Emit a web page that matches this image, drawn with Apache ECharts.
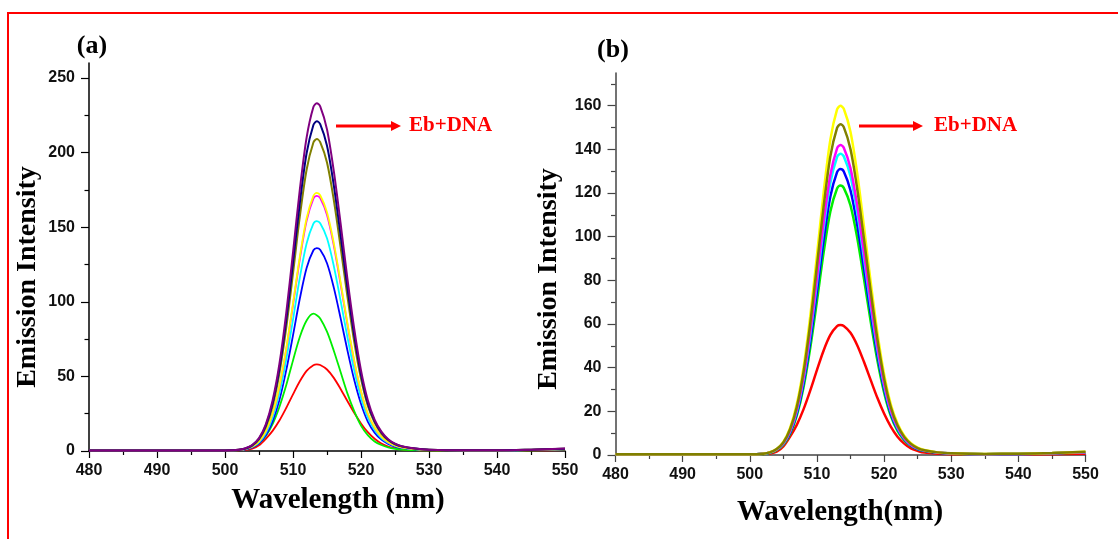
<!DOCTYPE html>
<html style="height: 100%">
<head>
<meta charset="utf-8">
<script src="https://cdn.jsdelivr.net/npm/echarts@6/dist/echarts.min.js"></script>
</head>
<body style="height: 100%; margin: 0; background: #fff">
<div id="main" style="width: 1118px; height: 539px;"></div>
<script type="text/javascript">
// wavelength samples (nm), shared by every curve
var wavelength = [480, 485, 490, 495, 500, 502, 503, 504, 505, 506, 507, 508, 509, 510, 511, 512, 513, 513.5,
    514, 515, 516, 517, 518, 519, 520, 521, 522, 523, 524, 525, 526, 528, 530, 535, 540, 545, 550];

// panel (a) emission intensity curves
var aRed     = [0.3,0.3,0.3,0.3,0.3,0.5,0.7,1.5,3.8,8.2,13.5,20.4,28.8,37.9,46.7,53.7,57.5,58,57.6,54.6,49,41.6,33.5,25.6,18.5,12.6,8.2,5,3,1.9,1.1,0.6,0.4,0.3,0.3,0.4,0.6];
var aGreen   = [0.3,0.3,0.3,0.3,0.3,0.6,1.2,2.5,5.1,10,18,29.5,44,60.7,76.4,87.4,92,91,88.8,80,67.2,52.9,38.6,26.7,17,10.6,6.4,4,2.4,1.5,1,0.6,0.4,0.3,0.3,0.5,0.9];
var aBlue    = [0.3,0.3,0.3,0.3,0.3,0.6,1.1,2.4,5.2,10.6,19.9,34.1,54,77.5,102,122.7,134.5,136,134.8,125.8,109.5,89,67.5,47.7,31.6,19.7,12.3,7.6,4.8,3,2.1,1.1,0.7,0.4,0.4,0.7,1.1];
var aCyan    = [0.3,0.3,0.3,0.3,0.3,0.6,1.3,2.7,5.8,11.9,22.4,38.6,61.1,88,116,139,152.3,154,152.6,142.5,124,100.7,76.4,54,35.7,22.3,14,8.6,5.3,3.4,2.3,1.2,0.7,0.4,0.4,0.7,1.2];
var aMagenta = [0.3,0.3,0.3,0.3,0.3,0.7,1.4,3,6.4,13.2,24.9,42.9,67.8,97.8,128.5,154.3,169.1,171,169.5,158.2,137.7,111.8,84.8,60,39.7,24.8,15.6,9.6,5.9,3.7,2.5,1.3,0.8,0.5,0.5,0.8,1.3];
var aYellow  = [0.3,0.3,0.3,0.3,0.3,0.7,1.4,3,6.5,13.4,25.2,43.4,68.6,98.9,130,156,171,173,171.4,160,139.3,113.1,85.8,60.7,40.1,25.1,15.8,9.7,6,3.8,2.5,1.3,0.8,0.5,0.5,0.8,1.3];
var aOlive   = [0.3,0.3,0.3,0.3,0.4,0.8,1.6,3.6,7.8,16,30,52,82.5,119,157,188.5,206.7,209,207,193.3,168.2,136.7,103.7,73.4,48.5,30.3,19,11.7,7.2,4.5,3,1.5,0.9,0.5,0.5,0.9,1.5];
var aNavy    = [0.3,0.3,0.3,0.3,0.4,0.8,1.7,3.8,8.2,17,32,55.3,87.6,126,166,199.5,218.5,221,219,204.5,178,144.5,109.5,77.6,51.3,32,20,12.4,7.5,4.7,3.1,1.6,0.9,0.5,0.5,0.9,1.5];
var aPurple  = [0.3,0.3,0.3,0.3,0.4,0.8,1.8,4,8.6,17.9,33.8,58.3,92.3,133,175,210,230.5,233,231,215.5,187.5,152.5,115.5,82,54,34,21,13,7.9,4.9,3.2,1.6,0.9,0.5,0.5,0.9,1.6];

// panel (b) emission intensity curves
var bRed     = [0.3,0.3,0.3,0.3,0.3,0.5,0.7,1.5,3.9,8.4,13.8,20.9,29.5,38.9,47.9,55,59,59.5,59.1,56,50.3,42.7,34.4,26.2,19,13,8.4,5.2,3,1.9,1.1,0.6,0.4,0.3,0.3,0.4,0.6];
var bGreen   = [0.3,0.3,0.3,0.3,0.3,0.5,1,2.2,4.7,9.6,18,30.9,49,70.4,92.8,111.6,122.1,123.5,122.4,114.3,99.5,80.8,61.3,43.4,28.7,17.9,11.1,6.8,4.1,2.6,1.8,1,0.6,0.4,0.5,0.8,1.2];
var bBlue    = [0.3,0.3,0.3,0.3,0.3,0.6,1.1,2.4,5,10.2,19.1,32.8,52,74.9,98.5,118.4,129.6,131,129.9,121.2,105.5,85.7,65,46,30.4,19,11.8,7.2,4.3,2.7,1.9,1,0.7,0.4,0.5,0.8,1.3];
var bCyan    = [0.3,0.3,0.3,0.3,0.3,0.6,1.1,2.5,5.2,10.7,20.1,34.5,54.8,78.9,103.8,124.7,136.5,138,136.8,127.7,111.1,90.3,68.4,48.4,32,20,12.4,7.6,4.6,2.9,2,1.1,0.7,0.4,0.5,0.8,1.3];
var bMagenta = [0.3,0.3,0.3,0.3,0.3,0.6,1.2,2.5,5.4,11,20.7,35.5,56.4,81.2,106.8,128.3,140.5,142,140.8,131.4,114.3,92.9,70.4,49.9,32.9,20.6,12.8,7.8,4.7,3,2,1.1,0.7,0.4,0.5,0.8,1.3];
var bYellow  = [0.3,0.3,0.3,0.3,0.3,0.6,1.3,2.8,6,12.4,23.3,40,63.5,91.5,120.3,144.5,158.3,160,158.6,148,129,104.7,79.4,56.2,37.1,23.2,14.4,8.8,5.4,3.4,2.3,1.2,0.8,0.5,0.6,0.9,1.5];
var bOlive   = [0.3,0.3,0.3,0.3,0.3,0.6,1.2,2.7,5.7,11.8,22,37.9,60.1,86.6,113.9,136.8,149.9,151.5,150.2,140.1,122,99.1,75.2,53.2,35.1,22,13.6,8.3,5.1,3.2,2.2,1.2,0.8,0.5,0.6,0.9,1.5];

// tick values
var aMajorTicks = [0, 50, 100, 150, 200, 250];
var aMinorTicks = [25, 75, 125, 175, 225];
var bMajorTicks = [0, 20, 40, 60, 80, 100, 120, 140, 160];
var bMinorTicks = [10, 30, 50, 70, 90, 110, 130, 150, 170];

var serif = "'Liberation Serif', 'Times New Roman', serif";
var sans = "'Liberation Sans', Arial, sans-serif";

function pairs(ys) {
    return wavelength.map(function (x, i) { return [x, ys[i]]; });
}

function curve(name, ys, color, idx, width) {
    return {
        name: name,
        type: 'line',
        xAxisIndex: idx,
        yAxisIndex: idx * 2,
        data: pairs(ys),
        smooth: 0.3,
        showSymbol: false,
        symbol: 'none',
        lineStyle: { color: color, width: width },
        itemStyle: { color: color }
    };
}

function xAx(idx, lineColor) {
    return {
        type: 'value',
        gridIndex: idx,
        position: 'bottom',
        min: 480, max: 550, interval: 10,
        axisLine: { onZero: false, lineStyle: { color: lineColor, width: 1.5 } },
        axisTick: { length: 7, lineStyle: { color: lineColor, width: 1.2 } },
        minorTick: { show: true, splitNumber: 2, length: 4, lineStyle: { color: lineColor, width: 1.2 } },
        axisLabel: { margin: 12, color: '#111', fontSize: 16, fontWeight: 'bold', fontFamily: sans },
        splitLine: { show: false }
    };
}

function yMajor(idx, max, ticks, lineColor) {
    return {
        type: 'value',
        gridIndex: idx,
        position: 'left',
        min: 0, max: max,
        axisLine: { show: true, onZero: false, lineStyle: { color: lineColor, width: 1.5 } },
        axisTick: { show: true, length: 8, customValues: ticks, lineStyle: { color: lineColor, width: 1.2 } },
        axisLabel: { margin: 14, customValues: ticks, color: '#111', fontSize: 16, fontWeight: 'bold', fontFamily: sans },
        splitLine: { show: false }
    };
}

function yMinor(idx, max, ticks, lineColor) {
    return {
        type: 'value',
        gridIndex: idx,
        position: 'left',
        offset: 0,
        min: 0, max: max,
        axisLine: { show: false, onZero: false },
        axisTick: { show: true, length: 4.5, customValues: ticks, lineStyle: { color: lineColor, width: 1.2 } },
        axisLabel: { show: false },
        splitLine: { show: false }
    };
}

function label(text, x, y, size, color, rot, align) {
    return {
        type: 'text',
        x: x, y: y,
        rotation: rot || 0,
        style: {
            text: text,
            fill: color,
            font: 'bold ' + size + 'px ' + serif,
            textAlign: align || 'center',
            textVerticalAlign: 'middle'
        }
    };
}

function arrow(x1, x2, y) {
    return [
        { type: 'line', shape: { x1: x1, y1: y, x2: x2 - 8, y2: y }, style: { stroke: '#ff0000', lineWidth: 3 } },
        { type: 'polygon', shape: { points: [[x2 - 10, y - 5], [x2, y], [x2 - 10, y + 5]] }, style: { fill: '#ff0000' } }
    ];
}

var myChart = echarts.init(document.getElementById('main'));
var option = {
    animation: false,
    backgroundColor: '#ffffff',
    grid: [
        { left: 89, top: 63, width: 476, height: 388 },
        { left: 615.5, top: 73, width: 470, height: 382 }
    ],
    xAxis: [xAx(0, '#000'), xAx(1, '#444')],
    yAxis: [
        yMajor(0, 260, aMajorTicks, '#000'), yMinor(0, 260, aMinorTicks, '#000'),
        yMajor(1, 175, bMajorTicks, '#444'), yMinor(1, 175, bMinorTicks, '#444')
    ],
    series: [
        curve('a red', aRed, '#ff0000', 0, 1.8),
        curve('a green', aGreen, '#00ee00', 0, 1.8),
        curve('a blue', aBlue, '#0000ff', 0, 1.8),
        curve('a cyan', aCyan, '#00ffff', 0, 1.8),
        curve('a magenta', aMagenta, '#ff00ff', 0, 1.8),
        curve('a yellow', aYellow, '#ffff00', 0, 1.8),
        curve('a olive', aOlive, '#808000', 0, 2),
        curve('a navy', aNavy, '#000080', 0, 2),
        curve('a purple', aPurple, '#800080', 0, 2),
        curve('b red', bRed, '#ff0000', 1, 2.5),
        curve('b green', bGreen, '#00ee00', 1, 2.5),
        curve('b blue', bBlue, '#0000ff', 1, 2.5),
        curve('b cyan', bCyan, '#00ffff', 1, 2.5),
        curve('b magenta', bMagenta, '#ff00ff', 1, 2.5),
        curve('b yellow', bYellow, '#ffff00', 1, 2.5),
        curve('b olive', bOlive, '#808000', 1, 2.5)
    ],
    graphic: [
        { type: 'rect', shape: { x: 8, y: 13, width: 1200, height: 600 }, style: { fill: 'none', stroke: '#ff0000', lineWidth: 2 } },
        label('(a)', 92, 46, 26, '#000'),
        label('(b)', 613, 50, 26, '#000'),
        label('Emission Intensity', 28, 277, 28, '#000', Math.PI / 2),
        label('Emission Intensity', 549, 279, 28, '#000', Math.PI / 2),
        label('Wavelength (nm)', 338, 501, 29, '#000'),
        label('Wavelength(nm)', 840, 513, 29, '#000'),
        label('Eb+DNA', 409, 126, 21, '#ff0000', 0, 'left'),
        label('Eb+DNA', 934, 126, 21, '#ff0000', 0, 'left')
    ].concat(arrow(336, 401, 126), arrow(859, 923, 126))
};
myChart.setOption(option);
</script>
</body>
</html>
